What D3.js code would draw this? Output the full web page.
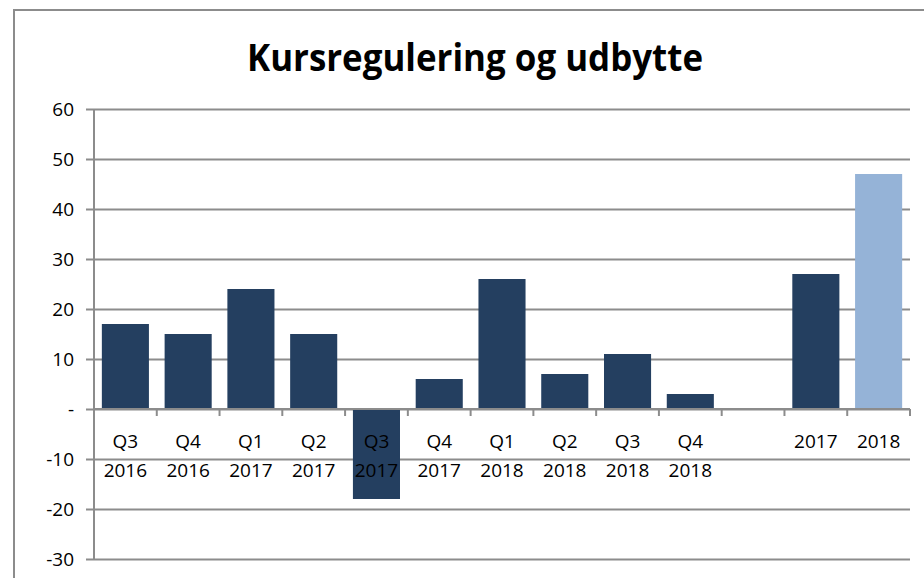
<!DOCTYPE html>
<html>
<head>
<meta charset="utf-8">
<script src="https://cdn.jsdelivr.net/npm/d3@7"></script>
<style>
  body { margin: 0; background: #fff; }
  svg text { font-family: "Open Sans", "Noto Sans", sans-serif; fill: #000; }
</style>
</head>
<body>
<div id="chart"></div>
<script>
// chart data
var quarters = ["Q3", "Q4", "Q1", "Q2", "Q3", "Q4", "Q1", "Q2", "Q3", "Q4", "", "", ""];
var years = ["2016", "2016", "2017", "2017", "2017", "2017", "2018", "2018", "2018", "2018", "", "2017", "2018"];
var values = [17, 15, 24, 15, -18, 6, 26, 7, 11, 3, null, 27, 47];
var highlight = [false, false, false, false, false, false, false, false, false, false, false, false, true];
var yTicks = [-30, -20, -10, 0, 10, 20, 30, 40, 50, 60];

var width = 924, height = 578;
var margin = { top: 109, right: 14, bottom: 19, left: 94 };

var svg = d3.select("#chart").append("svg")
    .attr("width", width)
    .attr("height", height);

// outer frame
svg.append("rect")
    .attr("x", 14).attr("y", 10)
    .attr("width", width).attr("height", height)
    .attr("fill", "none")
    .attr("stroke", "#8c8c8c")
    .attr("stroke-width", 2);

svg.append("text")
    .attr("x", 475)
    .attr("y", 71)
    .attr("text-anchor", "middle")
    .attr("font-size", 37)
    .attr("font-weight", "bold")
    .attr("textLength", 456)
    .attr("lengthAdjust", "spacingAndGlyphs")
    .text("Kursregulering og udbytte");

var keys = values.map(function(d, i) { return i; });

var x = d3.scaleBand()
    .domain(keys)
    .range([margin.left, width - margin.right])
    .paddingInner(0.25)
    .paddingOuter(0.125);

var y = d3.scaleLinear()
    .domain([-30, 60])
    .range([height - margin.bottom, margin.top]);

// gridlines + y axis
var yAxis = d3.axisLeft(y)
    .tickValues(yTicks)
    .tickSize(-(width - margin.right - margin.left))
    .tickPadding(20)
    .tickFormat(function(d) { return d === 0 ? "-" : d; });

var gy = svg.append("g")
    .attr("transform", "translate(" + margin.left + ",0)")
    .call(yAxis);
gy.select(".domain").remove();
gy.selectAll(".tick line")
    .attr("x1", -8)
    .attr("stroke", "#8c8c8c")
    .attr("stroke-width", 2);
gy.selectAll(".tick text")
    .attr("font-size", 19)
    .attr("fill", "#000")
    .style("font-family", "Open Sans, sans-serif");

// bars
var barData = keys.filter(function(i) { return values[i] !== null; });

svg.selectAll(".bar")
    .data(barData)
  .enter().append("rect")
    .attr("class", "bar")
    .attr("x", function(i) { return x(i); })
    .attr("width", x.bandwidth())
    .attr("y", function(i) { return y(Math.max(0, values[i])); })
    .attr("height", function(i) { return Math.abs(y(values[i]) - y(0)); })
    .attr("fill", function(i) { return highlight[i] ? "#95b3d7" : "#243f60"; });

// y axis line
svg.append("line")
    .attr("x1", margin.left).attr("x2", margin.left)
    .attr("y1", y(60)).attr("y2", y(-30))
    .attr("stroke", "#8c8c8c")
    .attr("stroke-width", 2);

// x axis line at zero with ticks
var step = x.step();
svg.append("line")
    .attr("x1", margin.left).attr("x2", width - margin.right)
    .attr("y1", y(0)).attr("y2", y(0))
    .attr("stroke", "#8c8c8c")
    .attr("stroke-width", 2);

svg.selectAll(".xtick")
    .data(d3.range(keys.length + 1))
  .enter().append("line")
    .attr("class", "xtick")
    .attr("x1", function(d) { return margin.left + d * step; })
    .attr("x2", function(d) { return margin.left + d * step; })
    .attr("y1", y(0))
    .attr("y2", y(0) + 7)
    .attr("stroke", "#8c8c8c")
    .attr("stroke-width", 2);

// category labels
var labels = svg.selectAll(".xlabel")
    .data(keys)
  .enter().append("text")
    .attr("class", "xlabel")
    .attr("text-anchor", "middle")
    .attr("font-size", 19);

labels.append("tspan")
    .attr("x", function(d) { return x(d) + x.bandwidth() / 2; })
    .attr("y", 448)
    .text(function(d) { return quarters[d] ? quarters[d] : years[d]; });

labels.append("tspan")
    .attr("x", function(d) { return x(d) + x.bandwidth() / 2; })
    .attr("y", 477)
    .text(function(d) { return quarters[d] ? years[d] : ""; });
</script>
</body>
</html>
